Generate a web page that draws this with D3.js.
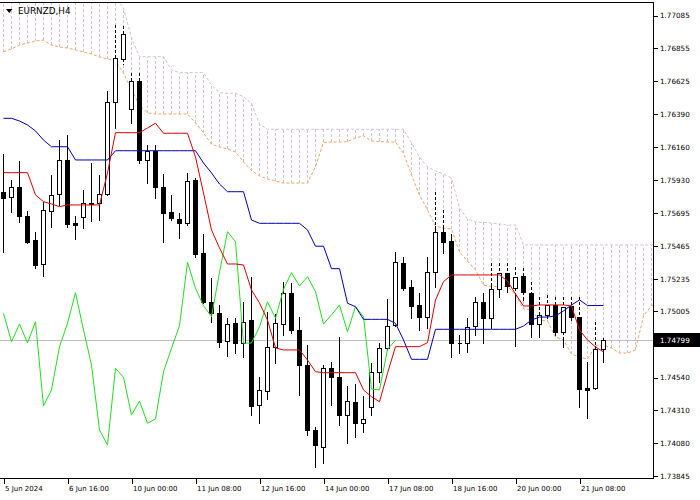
<!DOCTYPE html>
<html><head><meta charset="utf-8">
<script src="https://cdn.jsdelivr.net/npm/d3@7"></script>
<style>
html,body{margin:0;padding:0;background:#fff;}
svg{display:block;font-family:"DejaVu Sans",sans-serif;}
</style></head><body>
<svg id="chart" width="700" height="500"></svg>
<script>
// ---------------- data ----------------
const symbolLabel = "EURNZD,H4";
const dateTickIndex = [0, 8, 16, 24, 32, 40, 48, 56, 64, 72];
const dateTickLabels = ["5 Jun 2024", "6 Jun 16:00", "10 Jun 00:00", "11 Jun 08:00", "12 Jun 16:00",
  "14 Jun 00:00", "17 Jun 08:00", "18 Jun 16:00", "20 Jun 00:00", "21 Jun 08:00"];
const priceTicks = [1.77085, 1.76855, 1.76625, 1.76390, 1.76160, 1.75930, 1.75695, 1.75465,
  1.75235, 1.75005, 1.74775, 1.74540, 1.74310, 1.74080, 1.73845];
const lastPrice = 1.74799;

const opens = [1.75841,1.75808,1.75878,1.75672,1.75504,1.75333,1.75710,1.75825,1.76066,1.75620,
  1.75663,1.75766,1.75762,1.75825,1.76474,1.76774,1.76424,1.76621,1.76066,1.76131,
  1.75874,1.75703,1.75649,1.75625,1.75925,1.75410,1.75070,1.74988,1.74796,1.74920,
  1.74778,1.74941,1.74344,1.74445,1.74750,1.74913,1.75133,1.74871,1.74625,1.74168,
  1.74051,1.74602,1.74539,1.74274,1.74367,1.74215,1.74332,1.74574,1.74742,1.74903,
  1.75340,1.75175,1.75047,1.74965,1.75281,1.75562,1.75497,1.74783,1.74781,1.74899,
  1.75070,1.74953,1.75157,1.75274,1.75164,1.75251,1.75133,1.74913,1.74977,1.75047,
  1.74859,1.75040,1.74965,1.74466,1.74461,1.74735];
const highs = [1.76108,1.75925,1.76059,1.75707,1.75562,1.75773,1.75960,1.76206,1.76242,1.75672,
  1.75855,1.76043,1.75960,1.76553,1.77015,1.77008,1.76680,1.76677,1.76171,1.76171,
  1.75967,1.75820,1.75691,1.75977,1.75939,1.75546,1.75234,1.75047,1.74955,1.74955,
  1.75070,1.75246,1.74543,1.74999,1.74984,1.75211,1.75202,1.74965,1.74766,1.74192,
  1.74625,1.74648,1.74824,1.74478,1.74492,1.74407,1.74637,1.74778,1.75087,1.75421,
  1.75386,1.75223,1.75133,1.75382,1.75843,1.75715,1.75546,1.74836,1.74953,1.75105,
  1.75129,1.75340,1.75340,1.75340,1.75316,1.75305,1.75208,1.75100,1.75117,1.75105,
  1.75103,1.75100,1.75100,1.74648,1.74927,1.74813];
const lows = [1.75419,1.75703,1.75632,1.75483,1.75305,1.75251,1.75597,1.75750,1.75595,1.75509,
  1.75586,1.75639,1.75644,1.75820,1.76289,1.76741,1.76328,1.76045,1.75904,1.75797,
  1.75492,1.75644,1.75516,1.75609,1.75384,1.75059,1.74929,1.74750,1.74688,1.74707,
  1.74679,1.74274,1.74215,1.74386,1.74637,1.74836,1.74850,1.74414,1.74133,1.73910,
  1.73934,1.74344,1.74203,1.74079,1.74121,1.74156,1.74274,1.74508,1.74731,1.74899,
  1.75152,1.74953,1.74871,1.74883,1.75175,1.75410,1.74679,1.74707,1.74719,1.74836,
  1.74778,1.74885,1.75105,1.75140,1.74759,1.75082,1.74824,1.74824,1.74955,1.74836,
  1.74754,1.74941,1.74328,1.74251,1.74453,1.74648];
const closes = [1.75799,1.75874,1.75672,1.75492,1.75328,1.75715,1.75820,1.76066,1.75616,1.75609,
  1.75766,1.75760,1.75827,1.76472,1.76781,1.76952,1.76621,1.76066,1.76131,1.75874,
  1.75696,1.75656,1.75625,1.75920,1.75403,1.75070,1.74988,1.74789,1.74913,1.74780,
  1.74929,1.74337,1.74450,1.74754,1.74918,1.75133,1.74871,1.74625,1.74168,1.74063,
  1.74602,1.74539,1.74274,1.74372,1.74215,1.74246,1.74578,1.74742,1.74901,1.75347,
  1.75164,1.75042,1.74965,1.75277,1.75562,1.75492,1.74778,1.74780,1.74894,1.75070,
  1.74953,1.75157,1.75274,1.75180,1.75246,1.75140,1.74913,1.74977,1.75047,1.74859,
  1.75035,1.74965,1.74456,1.74450,1.74735,1.74799];

// Tenkan-sen (red)
const tenkan = [1.75977,1.75977,1.75977,1.75977,1.75820,1.75773,1.75757,1.75738,1.75750,1.75750,
  1.75750,1.75750,1.75750,1.75975,1.76258,1.76258,1.76258,1.76258,1.76291,1.76324,
  1.76254,1.76254,1.76254,1.76254,1.76087,1.75834,1.75574,1.75448,1.75335,1.75335,
  1.75328,1.75152,1.75061,1.74941,1.74745,1.74731,1.74731,1.74731,1.74660,1.74578,
  1.74571,1.74571,1.74571,1.74571,1.74571,1.74450,1.74402,1.74367,1.74567,1.74754,
  1.74754,1.74754,1.74754,1.74782,1.75082,1.75211,1.75258,1.75258,1.75258,1.75258,
  1.75258,1.75258,1.75258,1.75216,1.75124,1.75040,1.75040,1.75047,1.75047,1.75047,
  1.75047,1.75040,1.74871,1.74801,1.74752,1.74717];
// Kijun-sen (blue)
const kijun = [1.76359,1.76359,1.76340,1.76312,1.76270,1.76206,1.76159,1.76159,1.76159,1.76066,
  1.76066,1.76066,1.76066,1.76066,1.76131,1.76131,1.76131,1.76131,1.76131,1.76131,
  1.76131,1.76131,1.76131,1.76131,1.76131,1.76045,1.75975,1.75897,1.75843,1.75843,
  1.75843,1.75644,1.75621,1.75621,1.75621,1.75621,1.75621,1.75621,1.75574,1.75460,
  1.75460,1.75302,1.75302,1.75059,1.75035,1.74946,1.74946,1.74946,1.74946,1.74918,
  1.74801,1.74665,1.74665,1.74665,1.74876,1.74876,1.74876,1.74876,1.74876,1.74876,
  1.74876,1.74876,1.74876,1.74876,1.74876,1.74899,1.74941,1.74962,1.74962,1.74970,
  1.75005,1.75047,1.75082,1.75043,1.75043,1.75043];
// Chikou span (green), plotted from bar 0 to bar 49
const chikou = [1.74988,1.74789,1.74913,1.74780,1.74929,1.74337,1.74450,1.74754,1.74918,1.75133,
  1.74871,1.74625,1.74168,1.74063,1.74602,1.74539,1.74274,1.74372,1.74215,1.74246,
  1.74578,1.74742,1.74901,1.75347,1.75164,1.75042,1.74965,1.75277,1.75562,1.75492,
  1.74778,1.74780,1.74894,1.75070,1.74953,1.75157,1.75274,1.75180,1.75246,1.75140,
  1.74913,1.74977,1.75047,1.74859,1.75035,1.74965,1.74456,1.74450,1.74735,1.74799];
// Senkou span A (sandy brown), bars 0..82
const spanA = [1.76827,1.76846,1.76874,1.76888,1.76902,1.76909,1.76874,1.76860,1.76853,1.76839,
  1.76825,1.76811,1.76790,1.76776,1.76762,1.76677,1.76558,1.76452,1.76396,1.76389,
  1.76389,1.76389,1.76389,1.76389,1.76326,1.76256,1.76178,1.76157,1.76143,1.76122,
  1.76052,1.75992,1.75954,1.75932,1.75918,1.75904,1.75904,1.75904,1.75904,1.76020,
  1.76189,1.76192,1.76192,1.76195,1.76221,1.76235,1.76200,1.76196,1.76192,1.76192,
  1.76112,1.75960,1.75820,1.75715,1.75602,1.75588,1.75581,1.75419,1.75356,1.75293,
  1.75187,1.75177,1.75177,1.75177,1.75117,1.75019,1.75012,1.74941,1.74934,1.74822,
  1.74801,1.74702,1.74681,1.74667,1.74759,1.74766,1.74745,1.74709,1.74709,1.74731,
  1.74970,1.75043,1.75068];
// Senkou span B (thistle), bars 0..82
const spanB = [1.77210,1.77210,1.77210,1.77210,1.77210,1.77210,1.77210,1.77210,1.77210,1.77210,
  1.77210,1.77210,1.77210,1.77210,1.77210,1.77134,1.76923,1.76792,1.76792,1.76792,
  1.76792,1.76699,1.76680,1.76680,1.76680,1.76680,1.76593,1.76539,1.76535,1.76535,
  1.76511,1.76464,1.76319,1.76282,1.76282,1.76282,1.76282,1.76282,1.76282,1.76282,
  1.76282,1.76282,1.76282,1.76282,1.76282,1.76282,1.76282,1.76282,1.76282,1.76282,
  1.76282,1.76185,1.76087,1.76017,1.75989,1.75967,1.75939,1.75729,1.75651,1.75630,
  1.75628,1.75623,1.75616,1.75609,1.75609,1.75469,1.75469,1.75469,1.75469,1.75469,
  1.75469,1.75469,1.75469,1.75469,1.75469,1.75469,1.75469,1.75469,1.75469,1.75469,
  1.75469,1.75469,1.75469];

// ---------------- drawing ----------------
const svg = d3.select("#chart");
const P = {left: 0, right: 653.5, top: 2.5, bottom: 478.5};
const x = d3.scaleLinear().domain([0, 75]).range([3.5, 603.5]);
const y = d3.scaleLinear().domain([1.738308, 1.771764]).range([478, 2]);
const snap = v => Math.round(v) + 0.5;

svg.append("defs").append("clipPath").attr("id", "plotClip")
  .append("rect").attr("x", 0).attr("y", 3).attr("width", 653).attr("height", 475);

const plot = svg.append("g").attr("clip-path", "url(#plotClip)");

// cloud hatching (vertical dotted lines between span A and span B)
const cloudIdx = d3.range(spanA.length);
plot.append("g").selectAll("line").data(cloudIdx).join("line")
  .attr("x1", k => x(k)).attr("x2", k => x(k))
  .attr("y1", k => y(spanA[k])).attr("y2", k => y(spanB[k]))
  .attr("stroke", "#d8bfd8").attr("stroke-width", 1)
  .attr("stroke-dasharray", "3,2").attr("shape-rendering", "crispEdges");

// span lines
plot.append("path").datum(cloudIdx)
  .attr("d", d3.line().x(k => x(k)).y(k => y(spanB[k])))
  .attr("fill", "none").attr("stroke", "#d8bfd8").attr("stroke-dasharray", "3,2");
plot.append("path").datum(cloudIdx)
  .attr("d", d3.line().x(k => x(k)).y(k => y(spanA[k])))
  .attr("fill", "none").attr("stroke", "#f4a460").attr("stroke-dasharray", "3,2");

// current price line
plot.append("line").attr("x1", 0).attr("x2", 653).attr("y1", snap(y(lastPrice))).attr("y2", snap(y(lastPrice)))
  .attr("stroke", "#c0c0c0").attr("shape-rendering", "crispEdges");

// candles
const bars = d3.range(opens.length);
const cg = plot.append("g").attr("shape-rendering", "crispEdges");
bars.forEach(k => {
  const xc = x(k);
  const yH = y(highs[k]), yL = y(lows[k]);
  const yTop = y(Math.max(opens[k], closes[k])), yBot = y(Math.min(opens[k], closes[k]));
  cg.append("line").attr("x1", xc).attr("x2", xc).attr("y1", Math.round(yH)).attr("y2", Math.round(yL) + 1)
    .attr("stroke", "#000");
  // wick part inside the cloud looks dashed
  const c1 = Math.min(y(spanA[k]), y(spanB[k])), c2 = Math.max(y(spanA[k]), y(spanB[k]));
  [[yH, yTop], [yBot, yL]].forEach(([a, b]) => {
    const s = Math.max(a, c1), e = Math.min(b, c2);
    if (e - s > 2) {
      cg.append("line").attr("x1", xc).attr("x2", xc).attr("y1", Math.round(s)).attr("y2", Math.round(e))
        .attr("stroke", "#fff").attr("stroke-dasharray", "0,3,2,0");
    }
  });
  const bull = closes[k] >= opens[k];
  const t = snap(yTop), b = snap(yBot);
  cg.append("path")
    .attr("d", `M${xc - 2},${t}H${xc + 2}V${b}H${xc - 2}Z`)
    .attr("fill", bull ? "#fff" : "#000").attr("stroke", "#000");
});

// Chikou, Kijun, Tenkan
plot.append("path").datum(d3.range(chikou.length))
  .attr("d", d3.line().x(k => x(k)).y(k => y(chikou[k])))
  .attr("fill", "none").attr("stroke", "#22dd22").attr("stroke-width", 1);
plot.append("path").datum(bars)
  .attr("d", d3.line().x(k => x(k)).y(k => y(kijun[k])))
  .attr("fill", "none").attr("stroke", "#0000b4").attr("stroke-width", 1);
plot.append("path").datum(bars)
  .attr("d", d3.line().x(k => x(k)).y(k => y(tenkan[k])))
  .attr("fill", "none").attr("stroke", "#dd0000").attr("stroke-width", 1);

// frame
svg.append("path").attr("d", `M0,${P.top}H${P.right}V${P.bottom}H0`)
  .attr("fill", "none").attr("stroke", "#000").attr("shape-rendering", "crispEdges");

// right price axis
const yAxis = d3.axisRight(y).tickValues(priceTicks).tickSize(4).tickSizeOuter(0).tickPadding(2.5)
  .tickFormat(d3.format(".5f"));
const ya = svg.append("g").attr("transform", `translate(${P.right},0.5)`).call(yAxis);
ya.select(".domain").remove();
ya.selectAll("line").attr("stroke", "#000").attr("shape-rendering", "crispEdges");
ya.selectAll("text").attr("font-family", "DejaVu Sans").attr("font-size", 7.2).attr("fill", "#000");

// bottom time axis
const xAxis = d3.axisBottom(x).tickValues(dateTickIndex).tickSize(5).tickPadding(3)
  .tickFormat((d, i) => dateTickLabels[i]);
const xa = svg.append("g").attr("transform", `translate(0,${P.bottom})`).call(xAxis);
xa.select(".domain").remove();
xa.selectAll("line").attr("stroke", "#000").attr("shape-rendering", "crispEdges");
xa.selectAll("text").attr("text-anchor", "start").attr("dx", 1)
  .attr("font-family", "DejaVu Sans").attr("font-size", 7).attr("fill", "#000");

// last price tag
const yl = y(lastPrice);
svg.append("rect").attr("x", 654).attr("y", Math.round(yl) - 7).attr("width", 46).attr("height", 14).attr("fill", "#000");
svg.append("text").attr("x", 660).attr("y", yl + 0.5).attr("dy", "0.32em")
  .attr("font-size", 7.2).attr("fill", "#fff").text(d3.format(".5f")(lastPrice));

// title
svg.append("path").attr("d", "M6,9L12.5,9L9.25,13Z").attr("fill", "#000");
svg.append("text").attr("x", 18).attr("y", 14).attr("font-size", 8.8).attr("fill", "#000").text(symbolLabel);
</script>
</body></html>
